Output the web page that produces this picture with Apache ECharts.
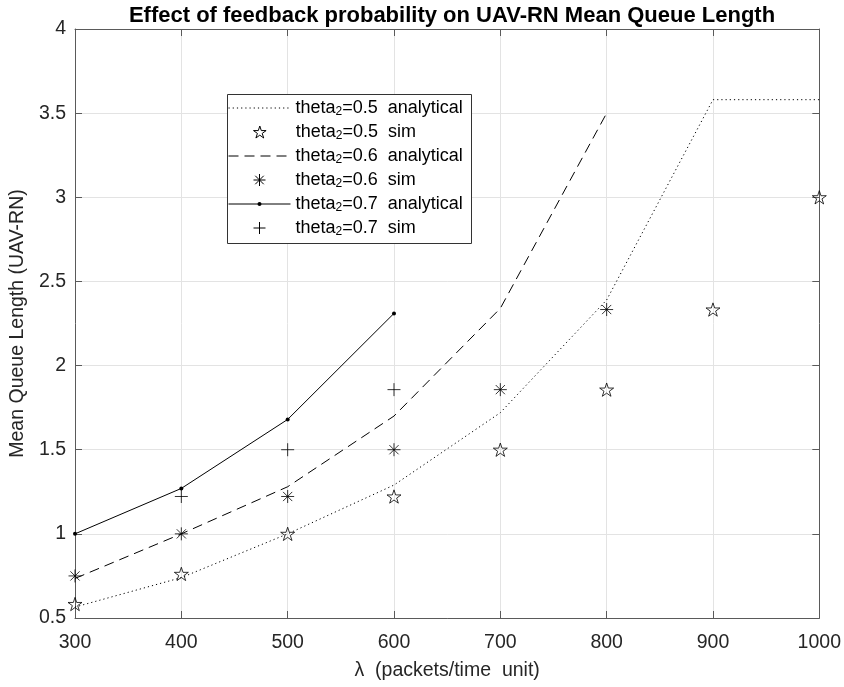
<!DOCTYPE html>
<html>
<head>
<meta charset="utf-8">
<script src="https://cdn.jsdelivr.net/npm/echarts@6/dist/echarts.min.js"></script>
<style>html,body{margin:0;padding:0;background:#fff;}#c{width:844px;height:687px;}</style>
</head>
<body>
<div id="c"></div>
<script>
// ---- data ----
const lambda05 = [300, 400, 500, 600, 700, 800, 900, 1000];
const ana05 = [0.565, 0.74, 1.0, 1.29, 1.72, 2.39, 3.58, 3.58];
const sim05 = [0.583, 0.762, 1.0, 1.222, 1.5, 1.857, 2.333, 3.0];
const lambda06 = [300, 400, 500, 600, 700, 800];
const ana06 = [0.735, 1.0, 1.28, 1.70, 2.34, 3.5];
const sim06 = [0.75, 1.0, 1.222, 1.5, 1.857, 2.333];
const lambda07 = [300, 400, 500, 600];
const ana07 = [1.0, 1.27, 1.68, 2.31];
const lambda07sim = [400, 500, 600];
const sim07 = [1.222, 1.5, 1.857];
const seriesNames = [
  'theta2=0.5  analytical', 'theta2=0.5  sim',
  'theta2=0.6  analytical', 'theta2=0.6  sim',
  'theta2=0.7  analytical', 'theta2=0.7  sim'
];

const pairs = (xs, ys) => xs.map((x, i) => [x, ys[i]]);
const STAR = 'path://M0,-10L2.245,-3.09L9.51,-3.09L3.63,1.18L5.88,8.09L0,3.82L-5.88,8.09L-3.63,1.18L-9.51,-3.09L-2.245,-3.09Z';
const ASTER = 'path://M0,-10L0,10M-10,0L10,0M-7.07,-7.07L7.07,7.07M-7.07,7.07L7.07,-7.07';
const PLUS = 'path://M0,-10L0,10M-10,0L10,0';
const FONT = '"Liberation Sans", Arial, Helvetica, sans-serif';
const hollow = {color: 'none', borderColor: '#000', borderWidth: 1};

// legend layout (one legend per row, inside a single framed box)
const LEG_ROW0 = 109, LEG_STEP = 24;
const legendFormatter = function (name) {
  return '{a|theta}{s|2}{a|' + name.replace(/^theta2/, '') + '}';
};
const legendText = {
  fontFamily: FONT, fontSize: 18, color: '#000',
  rich: {
    a: {fontFamily: FONT, fontSize: 18, lineHeight: 20, color: '#000', verticalAlign: 'middle'},
    s: {fontFamily: FONT, fontSize: 12, lineHeight: 12, color: '#000', verticalAlign: 'bottom'}
  }
};
const hiddenSym = {color: 'none', borderColor: 'none', borderWidth: 0, opacity: 0};
const symStyle = {color: 'none', borderColor: '#000', borderWidth: 1, opacity: 1};
const legLine = {width: 1, color: '#000', opacity: 1};
const legendItemOpts = [
  {h: 12, left: 228, item: {itemStyle: hiddenSym, lineStyle: legLine}},
  {h: 12, left: 251, item: {itemStyle: symStyle}},
  {h: 12, left: 228, item: {itemStyle: hiddenSym, lineStyle: legLine}},
  {h: 12, left: 251, item: {itemStyle: symStyle}},
  {h: 5, left: 228, item: {itemStyle: {color: '#000', opacity: 1}, lineStyle: legLine}},
  {h: 12, left: 251, item: {itemStyle: symStyle}}
];
const legends = seriesNames.map((name, i) => ({
  show: true, orient: 'vertical', left: legendItemOpts[i].left, top: LEG_ROW0 + LEG_STEP * i - 10,
  padding: 0, itemWidth: 62, itemHeight: legendItemOpts[i].h, itemGap: 0,
  symbolKeepAspect: true, selectedMode: false,
  data: [Object.assign({name: name}, legendItemOpts[i].item)],
  formatter: legendFormatter, textStyle: legendText
}));

const chart = echarts.init(document.getElementById('c'), null, {renderer: 'canvas'});
const axisCommon = {
  axisLine: {show: true, onZero: false, lineStyle: {color: '#5a5a5a', width: 1}},
  axisTick: {show: true, inside: true, length: 7, lineStyle: {color: '#5a5a5a'}},
};
chart.setOption({
  animation: false,
  backgroundColor: '#fff',
  title: {
    text: 'Effect of feedback probability on UAV-RN Mean Queue Length',
    left: 447, textAlign: 'center', top: 0,
    textStyle: {fontFamily: FONT, fontWeight: 'bold', fontSize: 22, color: '#000'}
  },
  grid: {left: 74, right: 24, top: 29, bottom: 69, containLabel: false},
  graphic: [{
    type: 'rect', left: 227, top: 94, z: 1,
    shape: {width: 244, height: 149},
    style: {fill: '#fff', stroke: '#333', lineWidth: 1}
  }],
  legend: legends,
  xAxis: [
    Object.assign({
      type: 'value', min: 300, max: 1000, interval: 100, position: 'bottom',
      name: 'λ  (packets/time  unit)', nameLocation: 'middle', nameGap: 43,
      nameTextStyle: {fontFamily: FONT, fontSize: 19.5, color: '#262626'},
      axisLabel: {fontFamily: FONT, fontSize: 19.5, color: '#262626', margin: 15,
        formatter: v => String(v)},
      splitLine: {show: true, lineStyle: {color: '#e3e3e3', width: 1}}
    }, axisCommon),
    Object.assign({
      type: 'value', min: 300, max: 1000, interval: 100, position: 'top',
      axisLabel: {show: false}, splitLine: {show: false}
    }, axisCommon)
  ],
  yAxis: [
    Object.assign({
      type: 'value', min: 0.5, max: 4, interval: 0.5, position: 'left',
      name: 'Mean Queue Length (UAV-RN)', nameLocation: 'middle', nameGap: 44,
      nameTextStyle: {fontFamily: FONT, fontSize: 19.5, color: '#262626'},
      axisLabel: {fontFamily: FONT, fontSize: 19.5, color: '#262626', margin: 9},
      splitLine: {show: true, lineStyle: {color: '#e3e3e3', width: 1}}
    }, axisCommon),
    Object.assign({
      type: 'value', min: 0.5, max: 4, interval: 0.5, position: 'right',
      axisLabel: {show: false}, splitLine: {show: false}
    }, axisCommon)
  ],
  series: [
    {
      name: seriesNames[0], type: 'line', data: pairs(lambda05, ana05),
      symbol: 'none', lineStyle: {color: '#000', width: 1, type: [1.2, 3]},
      itemStyle: {color: '#000'}
    },
    {
      name: seriesNames[1], type: 'scatter', data: pairs(lambda05, sim05),
      symbol: STAR, symbolSize: 14, symbolKeepAspect: true, clip: false,
      itemStyle: hollow
    },
    {
      name: seriesNames[2], type: 'line', data: pairs(lambda06, ana06),
      symbol: 'none', lineStyle: {color: '#000', width: 1, type: [10, 6]},
      itemStyle: {color: '#000'}
    },
    {
      name: seriesNames[3], type: 'scatter', data: pairs(lambda06, sim06),
      symbol: ASTER, symbolSize: 13, symbolKeepAspect: true, clip: false,
      itemStyle: hollow
    },
    {
      name: seriesNames[4], type: 'line', data: pairs(lambda07, ana07),
      symbol: 'circle', symbolSize: 4, showSymbol: true,
      lineStyle: {color: '#000', width: 1, type: 'solid'},
      itemStyle: {color: '#000', borderWidth: 0}
    },
    {
      name: seriesNames[5], type: 'scatter', data: pairs(lambda07sim, sim07),
      symbol: PLUS, symbolSize: 13, symbolKeepAspect: true, clip: false,
      itemStyle: hollow
    }
  ]
});
</script>
</body>
</html>
